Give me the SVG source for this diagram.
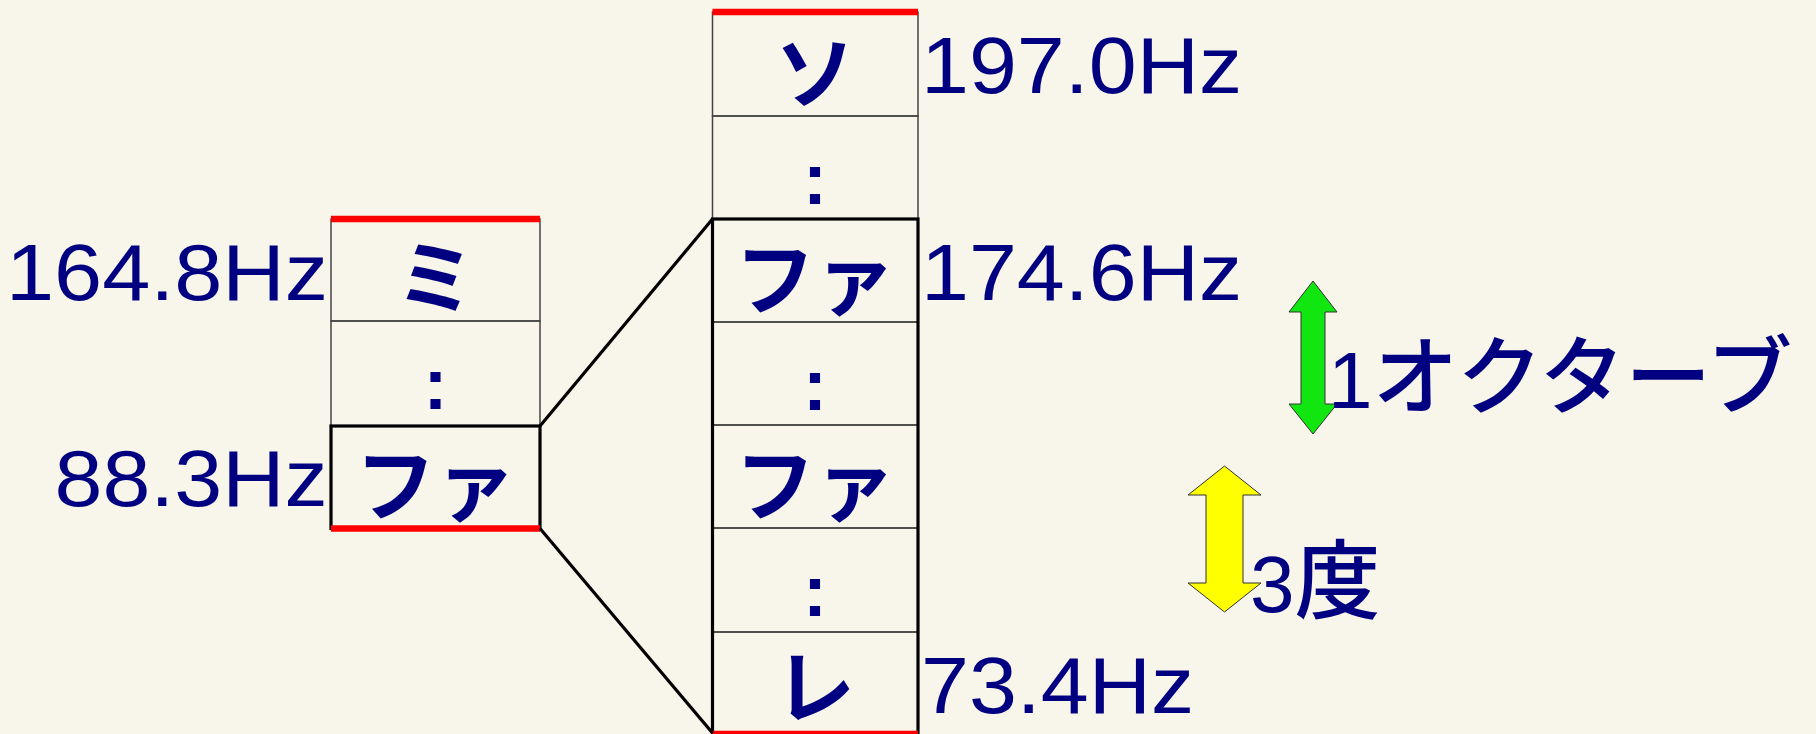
<svg xmlns="http://www.w3.org/2000/svg" width="1816" height="734" viewBox="0 0 1816 734">
  <style>
    .hz { font-family: "Liberation Sans", Arial, sans-serif; font-size: 80px; fill: #000080; }
    .kana { font-family: "Noto Sans CJK JP", sans-serif; font-size: 80px; font-weight: 700; fill: #000080; text-anchor: middle; }
    .dots { font-family: "Liberation Sans", Arial, sans-serif; font-size: 72px; font-weight: 700; fill: #000080; text-anchor: middle; }
    .lbl { font-family: "Liberation Sans", "Noto Sans CJK JP", sans-serif; font-size: 80px; fill: #000080; }
    .lbl .cjk { font-family: "Noto Sans CJK JP", sans-serif; font-size: 86px; font-weight: 500; }
    .thin { fill: none; stroke: #444; stroke-width: 1.5; }
    .thick { fill: none; stroke: #000; stroke-width: 3.2; }
    .red { stroke: #ff0000; stroke-width: 6.5; }
    .conn { stroke: #000; stroke-width: 3.2; fill: none; }
    .arrow { stroke: #333; stroke-width: 1; }
  </style>
  <rect x="0" y="0" width="1816" height="734" fill="#f8f5eb"/>

  <!-- Left column -->
  <g id="left-column">
    <g id="left-mi">
      <rect class="thin" x="331" y="219" width="209" height="102"/>
      <text class="kana" x="435.5" y="307">ミ</text>
    </g>
    <g id="left-dots">
      <rect class="thin" x="331" y="321" width="209" height="105"/>
      <text class="dots" x="435.5" y="409">:</text>
    </g>
    <g id="left-fa">
      <rect class="thick" x="331" y="426" width="209" height="102.5"/>
      <text class="kana" x="435.5" y="514">ファ</text>
    </g>
    <line class="red" x1="331" y1="219" x2="540" y2="219"/>
    <line class="red" x1="331" y1="528.5" x2="540" y2="528.5"/>
  </g>

  <!-- Middle column -->
  <g id="mid-column">
    <g id="mid-so">
      <rect class="thin" x="712.5" y="12" width="205.5" height="104"/>
      <text class="kana" x="815" y="102">ソ</text>
    </g>
    <g id="mid-dots1">
      <rect class="thin" x="712.5" y="116" width="205.5" height="103"/>
      <text class="dots" x="815" y="203.5">:</text>
    </g>
    <g id="mid-fa-high">
      <rect class="thin" x="712.5" y="219" width="205.5" height="103"/>
      <text class="kana" x="815" y="307.5">ファ</text>
    </g>
    <g id="mid-dots2">
      <rect class="thin" x="712.5" y="322" width="205.5" height="103"/>
      <text class="dots" x="815" y="409.5">:</text>
    </g>
    <g id="mid-fa-low">
      <rect class="thin" x="712.5" y="425" width="205.5" height="103"/>
      <text class="kana" x="815" y="513.5">ファ</text>
    </g>
    <g id="mid-dots3">
      <rect class="thin" x="712.5" y="528" width="205.5" height="104"/>
      <text class="dots" x="815" y="616">:</text>
    </g>
    <g id="mid-re">
      <rect class="thin" x="712.5" y="632" width="205.5" height="101"/>
      <text class="kana" x="815" y="716">レ</text>
    </g>
    <rect class="thick" x="712.5" y="219" width="205.5" height="520"/>
    <line class="red" x1="712.5" y1="12" x2="918" y2="12"/>
    <line class="red" x1="712.5" y1="734" x2="918" y2="734"/>
  </g>

  <!-- Connectors -->
  <g id="connectors">
    <line class="conn" x1="540" y1="426" x2="712.5" y2="219"/>
    <line class="conn" x1="540" y1="528.5" x2="712.5" y2="733"/>
  </g>

  <!-- Frequency labels -->
  <g id="freq-labels">
    <text class="hz" x="6" y="300" textLength="322" lengthAdjust="spacingAndGlyphs">164.8Hz</text>
    <text class="hz" x="54.5" y="506" textLength="273" lengthAdjust="spacingAndGlyphs">88.3Hz</text>
    <text class="hz" x="921" y="93" textLength="321" lengthAdjust="spacingAndGlyphs">197.0Hz</text>
    <text class="hz" x="921" y="300" textLength="321" lengthAdjust="spacingAndGlyphs">174.6Hz</text>
    <text class="hz" x="921" y="713" textLength="273" lengthAdjust="spacingAndGlyphs">73.4Hz</text>
  </g>

  <!-- Octave arrow -->
  <g id="octave">
    <polygon class="arrow" fill="#11e611" points="1313,281 1337,312 1325,312 1325,404 1337,404 1313,434 1289,404 1301,404 1301,312 1289,312"/>
    <text class="lbl" x="1328" y="408">1<tspan class="cjk">オクターブ</tspan></text>
  </g>

  <!-- Third arrow -->
  <g id="third">
    <polygon class="arrow" fill="#ffff00" points="1224.5,466 1261,495 1243,495 1243,583 1261,583 1224.5,612 1188,583 1206,583 1206,495 1188,495"/>
    <text class="lbl" x="1250" y="612">3<tspan class="cjk">度</tspan></text>
  </g>
</svg>
